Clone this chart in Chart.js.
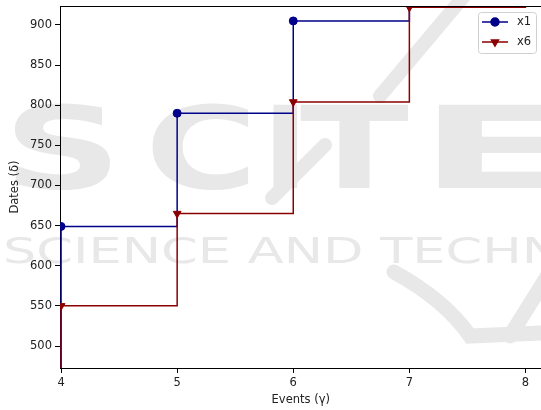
<!DOCTYPE html>
<html><head><meta charset="utf-8">
<script src="https://cdn.jsdelivr.net/npm/chart.js@4.4.1/dist/chart.umd.min.js"></script>
<style>html,body{margin:0;padding:0;background:#fff;overflow:hidden}#wrap{width:541px;height:410px;overflow:hidden}</style>
</head><body><div id="wrap"><canvas id="c" width="547" height="410"></canvas></div>
<script>
// ---- data ----
const xValues = [4, 4, 5, 6, 7, 8];
const x1Values = [400, 649, 790, 905, 1000, 1100];
const x6Values = [400, 550, 665, 804, 922, 1000];
const xTicks = [4, 5, 6, 7, 8];
const yTicks = [500, 550, 600, 650, 700, 750, 800, 850, 900];
const seriesLabels = ['x1', 'x6'];
const xTitle = 'Events (γ)';
const yTitle = 'Dates (δ)';

const BLUE = '#00008b', RED = '#8b0000';
const FONT = {family: 'DejaVu Sans', size: 11.5};

const watermark = {
  id: 'watermark',
  beforeDraw(chart) {
    const ctx = chart.ctx;
    ctx.save();
    ctx.fillStyle = '#e8e8e8';
    ctx.strokeStyle = '#e8e8e8';
    ctx.textBaseline = 'alphabetic';
    ctx.font = 'bold 114px "DejaVu Sans"';
    const letters = [['S', 3, 1.45], ['C', 145, 1.35], ['I', 262, 1.1], ['T', 300, 1.4], ['E', 418, 2.0]];
    letters.forEach(([t, x, sx]) => {
      ctx.save(); ctx.translate(x, 188); ctx.scale(sx, 1); ctx.fillText(t, 0, 0); ctx.restore();
    });
    ctx.save(); ctx.translate(3, 263); ctx.scale(1.46, 1);
    ctx.font = '36px "DejaVu Sans"';
    ctx.fillText('SCIENCE AND TECHNOLOGY', 0, 0);
    ctx.restore();
    ctx.lineWidth = 14; ctx.lineCap = 'round';
    ctx.beginPath(); ctx.moveTo(465, -5); ctx.lineTo(380, 96); ctx.stroke();
    ctx.beginPath(); ctx.moveTo(325, 145); ctx.lineTo(272, 198); ctx.stroke();
    ctx.lineWidth = 15;
    ctx.beginPath(); ctx.moveTo(394, 272); ctx.quadraticCurveTo(445, 300, 470, 336); ctx.lineTo(541, 333); ctx.stroke();
    ctx.beginPath(); ctx.moveTo(548, 275); ctx.lineTo(510, 336); ctx.stroke();
    ctx.restore();
  }
};

const frame = {
  id: 'frame',
  afterDraw(chart) {
    const {ctx, chartArea: a} = chart;
    ctx.save();
    ctx.strokeStyle = '#000'; ctx.lineWidth = 1;
    ctx.beginPath();
    ctx.moveTo(a.left, Math.round(a.top) + 0.5);
    ctx.lineTo(a.right, Math.round(a.top) + 0.5);
    ctx.stroke();
    const lx = 478, ly = 12, lw = 58, lh = 41;
    ctx.beginPath();
    ctx.roundRect(lx + 0.5, ly + 0.5, lw, lh, 3);
    ctx.fillStyle = 'rgba(255,255,255,0.85)';
    ctx.fill();
    ctx.strokeStyle = '#d0d0d0';
    ctx.stroke();
    chart.data.datasets.forEach((ds, i) => {
      const y = 22 + i * 20;
      ctx.strokeStyle = ds.borderColor; ctx.fillStyle = ds.backgroundColor;
      ctx.lineWidth = 1.5;
      ctx.beginPath(); ctx.moveTo(482, y); ctx.lineTo(508, y); ctx.stroke();
      Chart.helpers.drawPoint(ctx, {pointStyle: ds.pointStyle, radius: 4, rotation: ds.pointRotation || 0, borderWidth: 1}, 495, y);
      ctx.fillStyle = '#222';
      ctx.font = '11.5px "DejaVu Sans"';
      ctx.textBaseline = 'middle'; ctx.textAlign = 'left';
      ctx.fillText(ds.label, 517, y);
    });
    ctx.restore();
  }
};

const axisCommon = (ticksArr) => ({
  type: 'linear',
  afterBuildTicks: s => { s.ticks = ticksArr.map(v => ({value: v})); },
  grid: {display: true, drawOnChartArea: false, drawTicks: true, tickLength: 5, tickColor: '#000', tickWidth: 1},
  border: {display: true, color: '#000', width: 1},
  ticks: {font: FONT, color: '#222', autoSkip: false, maxRotation: 0},
});

new Chart(document.getElementById('c'), {
  type: 'line',
  data: {
    datasets: [
      {
        label: seriesLabels[0],
        data: xValues.map((x, i) => ({x, y: x1Values[i]})),
        borderColor: BLUE, backgroundColor: BLUE,
        borderWidth: 1.5, stepped: true, pointStyle: 'circle',
        pointRadius: xValues.map((x, i) => i === 0 ? 0 : 4),
        pointBorderWidth: 1, order: 2,
      },
      {
        label: seriesLabels[1],
        data: xValues.map((x, i) => ({x, y: x6Values[i]})),
        borderColor: RED, backgroundColor: RED,
        borderWidth: 1.5, stepped: true, pointStyle: 'triangle', pointRotation: 180,
        pointRadius: xValues.map((x, i) => i === 0 ? 0 : 4.5),
        pointBorderWidth: 1, order: 1,
      }
    ]
  },
  options: {
    responsive: false, animation: false, devicePixelRatio: 1,
    layout: {padding: {left: 0, right: 0, top: 6, bottom: 0}},
    plugins: {legend: {display: false}, tooltip: {enabled: false}},
    scales: {
      x: Object.assign(axisCommon(xTicks), {
        min: 3.991, max: 8.138,
        title: {display: true, text: xTitle, font: FONT, color: '#222', padding: {top: 3, bottom: 3}},
        afterFit: s => { s.height = 42; s.paddingLeft = 0; s.paddingRight = 0; },
      }),
      y: Object.assign(axisCommon(yTicks), {
        min: 472.6, max: 923.6,
        title: {display: true, text: yTitle, font: FONT, color: '#222', padding: {top: 8, bottom: 8}},
        afterFit: s => { s.width = 60; s.paddingTop = 0; s.paddingBottom = 0; },
      }),
    }
  },
  plugins: [watermark, frame]
});
</script></body></html>
